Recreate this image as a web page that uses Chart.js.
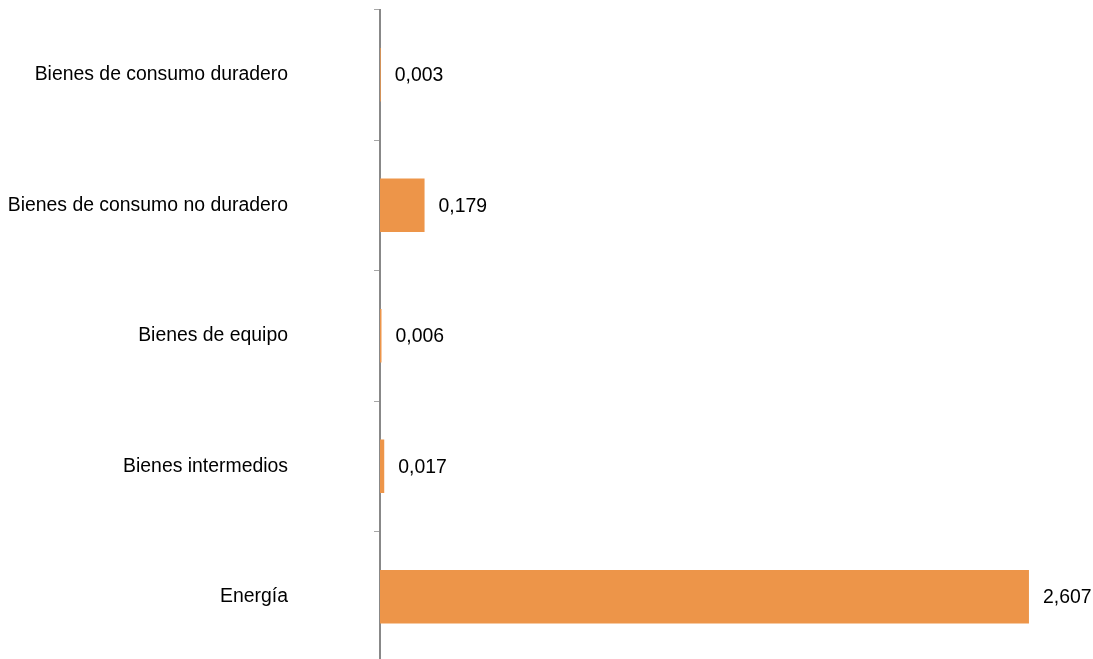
<!DOCTYPE html>
<html>
<head>
<meta charset="utf-8">
<script src="https://cdn.jsdelivr.net/npm/chart.js@4/dist/chart.umd.min.js"></script>
<style>
  html, body { margin: 0; padding: 0; background: #fff; overflow: hidden; }
  #wrap { position: relative; width: 1093px; height: 662px; }
</style>
</head>
<body>
<div id="wrap"><canvas id="chart"></canvas></div>
<script>
const categories = [
  "Bienes de consumo duradero",
  "Bienes de consumo no duradero",
  "Bienes de equipo",
  "Bienes intermedios",
  "Energía"
];
const values = [0.003, 0.179, 0.006, 0.017, 2.607];

const barColor = "#ED9549";
const fontFamily = "'Liberation Sans', Arial, sans-serif";
const fontSize = 19.4;

// etiquetas de valor a la derecha de cada barra
const valueLabels = {
  id: "valueLabels",
  afterDatasetsDraw(chart) {
    const ctx = chart.ctx;
    const meta = chart.getDatasetMeta(0);
    ctx.save();
    ctx.font = fontSize + "px " + fontFamily;
    ctx.fillStyle = "#000";
    ctx.textAlign = "left";
    ctx.textBaseline = "middle";
    meta.data.forEach((bar, i) => {
      const txt = values[i].toFixed(3).replace(".", ",");
      ctx.fillText(txt, bar.x + 14, bar.y + 1);
    });
    ctx.restore();
  }
};

const ctx = document.getElementById("chart").getContext("2d");
new Chart(ctx, {
  type: "bar",
  data: {
    labels: categories,
    datasets: [{
      data: values,
      backgroundColor: barColor,
      borderWidth: 0,
      barPercentage: 0.41,
      categoryPercentage: 1
    }]
  },
  options: {
    indexAxis: "y",
    responsive: true,
    maintainAspectRatio: false,
    animation: false,
    devicePixelRatio: 1,
    layout: { padding: { top: 9.5, right: 16, bottom: 0, left: 0 } },
    plugins: {
      legend: { display: false },
      tooltip: { enabled: false },
      title: { display: false }
    },
    scales: {
      x: {
        display: false,
        min: 0,
        max: 2.8
      },
      y: {
        afterFit(scale) {
          scale.width = 380;
          scale.paddingTop = 0;
          scale.paddingBottom = 0;
        },
        grid: {
          offset: true,
          drawOnChartArea: false,
          drawTicks: true,
          tickLength: 6,
          tickColor: "#a6a6a6",
          tickWidth: 1
        },
        border: { display: true, color: "#888888", width: 2 },
        ticks: {
          color: "#000",
          padding: 86,
          font: { family: fontFamily, size: fontSize }
        }
      }
    }
  },
  plugins: [valueLabels]
});
</script>
</body>
</html>
